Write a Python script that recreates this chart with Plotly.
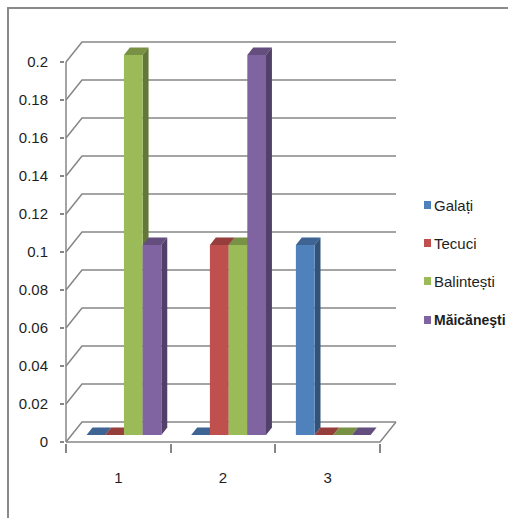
import plotly.graph_objects as go

# ---- data ---------------------------------------------------------------
CATEGORIES = ["1", "2", "3"]
SERIES_NAMES = ["Galați", "Tecuci", "Balintești", "Măicăneşti"]
GALATI = [0.0, 0.0, 0.1]
TECUCI = [0.0, 0.1, 0.0]
BALINTESTI = [0.2, 0.1, 0.0]
MAICANESTI = [0.1, 0.2, 0.0]
Y_TICK_VALUES = [0, 0.02, 0.04, 0.06, 0.08, 0.1, 0.12, 0.14, 0.16, 0.18, 0.2]
Y_TICK_TEXT = ["0", "0.02", "0.04", "0.06", "0.08", "0.1",
               "0.12", "0.14", "0.16", "0.18", "0.2"]

SERIES_VALUES = [GALATI, TECUCI, BALINTESTI, MAICANESTI]
SERIES_COLORS = ["#4F81BD", "#C0504D", "#9BBB59", "#8064A2"]

# ---- geometry of the pseudo-3D frame -----------------------------------
W, H = 508, 518
PL, PR, PT, PB = 65, 400, 40, 443          # plot area in pixels
ZERO_PX = 442                               # pixel row of value 0
CAT_PX = 104.67                             # pixels per category
Y_PX = 1900.0                               # pixels per unit of value
X_LO = -0.5 - 1 / CAT_PX                    # axis value at left edge
X_HI = X_LO + (PR - PL) / CAT_PX
Y_LO = -(PB - ZERO_PX) / Y_PX
Y_HI = (ZERO_PX - PT) / Y_PX

DX = 16 / CAT_PX                            # depth vector, data units
DY = 20 / Y_PX
F0, F1 = 0.35, 0.72                         # bar front / back depth
BAR_W = 18.7 / CAT_PX
N = len(SERIES_NAMES)
X_FIRST, X_LAST = -0.5, len(CATEGORIES) - 0.5
GRID = "#868686"
FONT = "Liberation Sans, Arial, sans-serif"
TEXT = "#1e1e1e"


def shade(hex_color, k):
    r, g, b = (int(hex_color[i:i + 2], 16) for i in (1, 3, 5))
    return "#%02x%02x%02x" % (int(r * k), int(g * k), int(b * k))


def px_x(px):
    return (px - PL) / (PR - PL)


def px_y(py):
    return (PB - py) / (PB - PT)


def path(points, close=False):
    d = "M " + " L ".join(f"{x},{y}" for x, y in points)
    return d + (" Z" if close else "")


shapes = []

# back wall gridlines with the diagonal link to the front axis
for v in Y_TICK_VALUES:
    shapes.append(dict(
        type="path", xref="x", yref="y", layer="below",
        path=path([(X_FIRST, v), (X_FIRST + DX, v + DY), (X_LAST + DX, v + DY)]),
        line=dict(color=GRID, width=1.5)))

# floor front edge and right side, plus the vertical value axis
shapes.append(dict(
    type="path", xref="x", yref="y", layer="below",
    path=path([(X_FIRST, 0), (X_LAST, 0), (X_LAST + DX, DY)]),
    line=dict(color=GRID, width=1.5)))
shapes.append(dict(
    type="path", xref="x", yref="y", layer="below",
    path=path([(X_FIRST, 0), (X_FIRST, Y_TICK_VALUES[-1])]),
    line=dict(color=GRID, width=1.5)))

# top and side faces of each bar
base = F0 * DY
ex, ey = (F1 - F0) * DX, (F1 - F0) * DY
offsets = [-N / 2 * BAR_W + i * BAR_W + F0 * DX for i in range(N)]
for j in range(len(CATEGORIES)):
    for i in range(N):
        v = SERIES_VALUES[i][j]
        col = SERIES_COLORS[i]
        x0 = j + offsets[i]
        x1 = x0 + BAR_W
        yt = base + v
        shapes.append(dict(
            type="path", xref="x", yref="y", layer="below",
            path=path([(x0, yt), (x1, yt), (x1 + ex, yt + ey), (x0 + ex, yt + ey)], True),
            fillcolor=shade(col, 0.78), line=dict(width=0)))
        if v > 0:
            shapes.append(dict(
                type="path", xref="x", yref="y", layer="below",
                path=path([(x1, base), (x1, yt), (x1 + ex, yt + ey), (x1 + ex, base + ey)], True),
                fillcolor=shade(col, 0.64), line=dict(width=0)))

# chart frame
shapes.append(dict(type="line", xref="paper", yref="paper",
                   x0=px_x(7), x1=px_x(W + 2), y0=px_y(8), y1=px_y(8),
                   line=dict(color="#8a8a8a", width=2)))
shapes.append(dict(type="line", xref="paper", yref="paper",
                   x0=px_x(8), x1=px_x(8), y0=px_y(7), y1=px_y(H + 2),
                   line=dict(color="#8a8a8a", width=2)))

# legend
annotations = []
LEG_Y = [205, 243, 281, 320]
for i, name in enumerate(SERIES_NAMES):
    cy = LEG_Y[i]
    shapes.append(dict(type="rect", xref="paper", yref="paper",
                       x0=px_x(424), x1=px_x(431), y0=px_y(cy - 4), y1=px_y(cy + 4),
                       fillcolor=SERIES_COLORS[i], line=dict(width=0)))
    last = i == N - 1
    annotations.append(dict(
        xref="paper", yref="paper", x=px_x(432), y=px_y(cy),
        xanchor="left", yanchor="middle", showarrow=False,
        text=f"<b>{name}</b>" if last else name,
        font=dict(family=FONT, size=14 if last else 15, color=TEXT)))

fig = go.Figure()
for i in range(N):
    fig.add_trace(go.Bar(
        x=list(range(len(CATEGORIES))), y=SERIES_VALUES[i], name=SERIES_NAMES[i],
        base=base, width=BAR_W, offset=offsets[i],
        marker=dict(color=SERIES_COLORS[i], line=dict(width=0)),
        showlegend=False, hoverinfo="skip"))

fig.update_layout(
    width=W, height=H, barmode="overlay",
    margin=dict(l=PL, r=W - PR, t=PT, b=H - PB, pad=0),
    paper_bgcolor="white", plot_bgcolor="white",
    font=dict(family=FONT, size=15, color=TEXT),
    shapes=shapes, annotations=annotations, showlegend=False,
    xaxis=dict(range=[X_LO, X_HI], showgrid=False, zeroline=False, showline=False,
               tickvals=list(range(len(CATEGORIES))), ticktext=CATEGORIES,
               ticks="", ticklabelstandoff=24, fixedrange=True,
               tickfont=dict(family=FONT, size=15, color=TEXT),
               minor=dict(tickvals=[k - 0.5 for k in range(len(CATEGORIES) + 1)],
                          ticks="outside", ticklen=9, tickcolor=GRID, tickwidth=1.5)),
    yaxis=dict(range=[Y_LO, Y_HI], showgrid=False, zeroline=False, showline=False,
               tickvals=Y_TICK_VALUES, ticktext=Y_TICK_TEXT,
               ticks="outside", ticklen=4, tickcolor=GRID, tickwidth=1.5,
               ticklabelstandoff=9, fixedrange=True,
               tickfont=dict(family=FONT, size=15, color=TEXT)),
)

fig.write_html("out.html")
